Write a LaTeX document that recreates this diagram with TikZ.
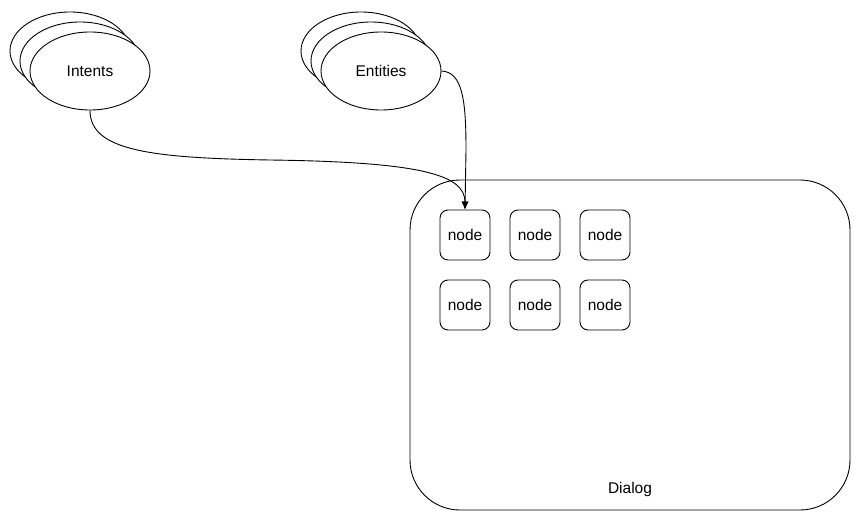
\documentclass[tikz,border=0pt]{standalone}
\usepackage{fontspec}
\setmainfont{Liberation Sans}
\usetikzlibrary{shapes.geometric,arrows.meta}
\begin{document}
\begin{tikzpicture}[x=1pt,y=-1pt,
  every node/.style={font=\fontsize{15.5}{18}\selectfont},
  ell/.style={ellipse,draw=black,fill=white,line width=0.9pt,minimum width=120pt,minimum height=78pt,inner sep=0pt},
  nbox/.style={rectangle,draw=black,fill=white,line width=0.9pt,rounded corners=8pt,minimum width=50pt,minimum height=50pt,inner sep=0pt},
  dlg/.style={rectangle,draw=black,line width=0.9pt,rounded corners=50pt,minimum width=440pt,minimum height=330pt,inner sep=0pt},
  conn/.style={draw=black,line width=0.9pt,-{Latex[length=8pt,width=7pt]}},
  plain/.style={draw=black,line width=0.9pt}
]
\useasboundingbox (0,0) rectangle (861,521);
% Intents stack
\node[ell] (int3) at (70,51) {};
\node[ell] (int2) at (80,61) {};
\node[ell] (int1) at (90,71) {Intents};
% Entities stack
\node[ell] (ent3) at (361,51) {};
\node[ell] (ent2) at (371,61) {};
\node[ell] (ent1) at (381,71) {Entities};
% Dialog
\node[dlg] (dialog) at (630,345) {};
\node (dlabel) at (630,489) {Dialog};
% inner nodes
\node[nbox] (n11) at (465,235) {node};
\node[nbox] (n12) at (535,235) {node};
\node[nbox] (n13) at (605,235) {node};
\node[nbox] (n21) at (465,305) {node};
\node[nbox] (n22) at (535,305) {node};
\node[nbox] (n23) at (605,305) {node};
% connectors
\coordinate (m1) at (270,160);
\coordinate (m2) at (466,150);
\draw[conn] (int1.south) .. controls +(0,40) and +(-120,-2) .. (m1)
  .. controls +(150,2) and +(0,-35) .. (n11.north);
\draw[conn] (ent1.east) .. controls +(21,1) and +(0,-50) .. (m2) -- (n11.north);
\end{tikzpicture}
\end{document}
